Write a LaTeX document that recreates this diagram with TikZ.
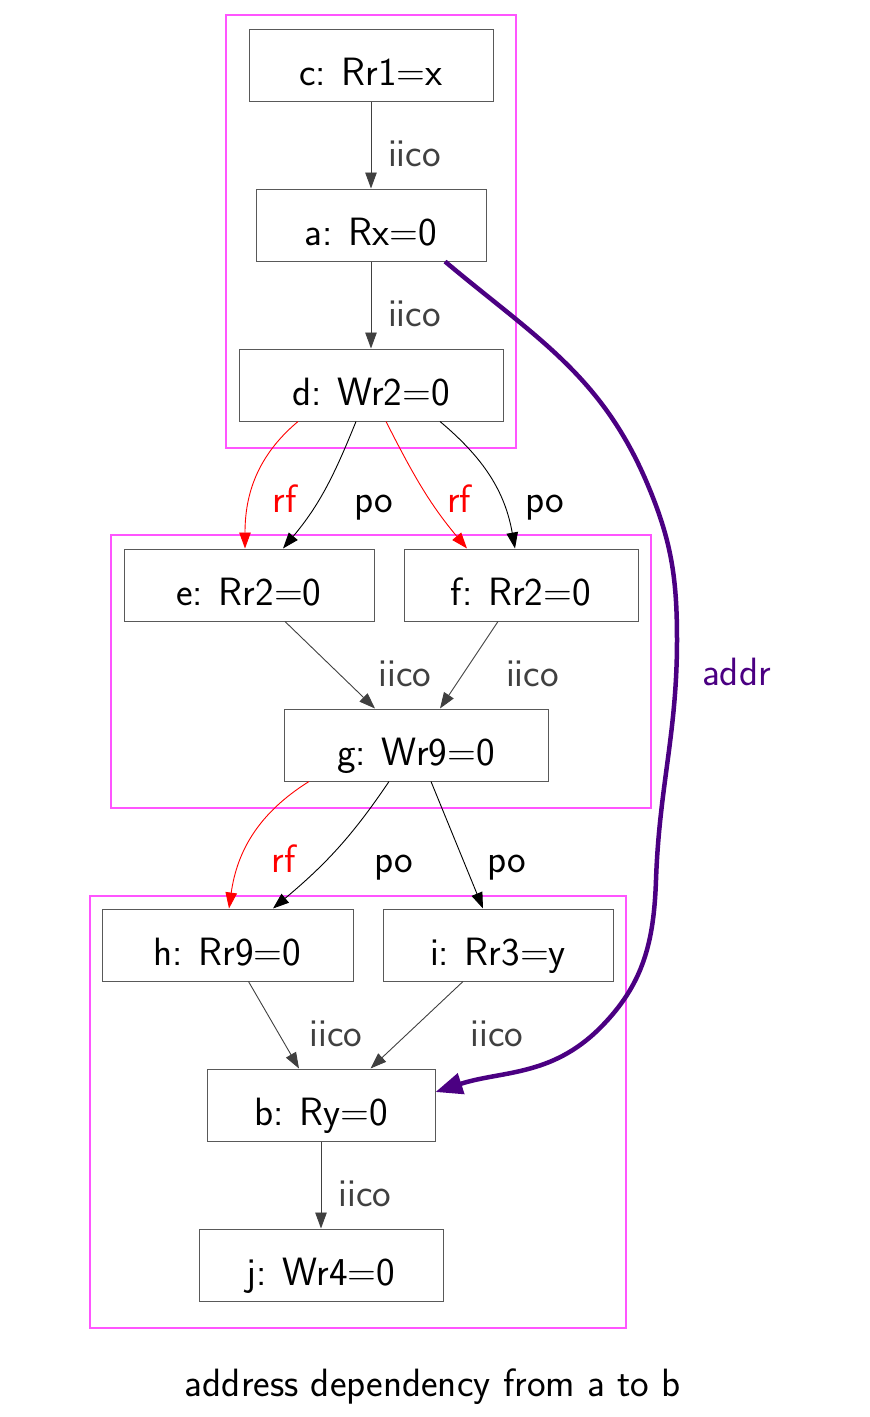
\documentclass[tikz,border=0pt]{standalone}
\usepackage{fontspec}
\usetikzlibrary{arrows.meta}
\definecolor{clustc}{RGB}{255,85,255}
\definecolor{indig}{RGB}{75,0,130}
\definecolor{iicoc}{RGB}{64,64,64}
\newcommand\evfont{\fontsize{39.5}{47}\selectfont\sffamily}
\newcommand\evt[2]{#1:\hspace{0.4em}#2}
\tikzset{
  ev/.style={draw=black!65, line width=1pt, minimum height=72pt, inner sep=0pt,
    text height=40pt, text depth=0pt, font=\evfont},
  lbl/.style={anchor=base, inner sep=0pt, font=\evfont},
  clust/.style={draw=clustc, line width=1.1pt},
  iicoedge/.style={draw=iicoc, line width=0.9pt, -{Triangle[length=16pt,width=11.5pt]}},
  poedge/.style={draw=black, line width=0.9pt, -{Triangle[length=16pt,width=11.5pt]}},
  rfedge/.style={draw=red, line width=0.9pt, -{Triangle[length=16pt,width=11.5pt]}},
  addredge/.style={draw=indig, line width=4.5pt, -{Triangle[length=27pt,width=21pt]}},
}
\begin{document}
\begin{tikzpicture}[x=1pt,y=-1pt]
\useasboundingbox (0,0) rectangle (870,1417);
% clusters
\draw[clust] (226,15) rectangle (516,448);
\draw[clust] (111,535) rectangle (651,808);
\draw[clust] (90,896) rectangle (626,1328);
% nodes
\node[ev, minimum width=244pt] (c) at (371,65.5) {\evt{c}{Rr1=x}};
\node[ev, minimum width=230pt] (a) at (371,225) {\evt{a}{Rx=0}};
\node[ev, minimum width=264pt] (d) at (371,385) {\evt{d}{Wr2=0}};
\node[ev, minimum width=250pt] (e) at (249,585) {\evt{e}{Rr2=0}};
\node[ev, minimum width=234pt] (f) at (521,585) {\evt{f}{Rr2=0}};
\node[ev, minimum width=264pt] (g) at (416,745) {\evt{g}{Wr9=0}};
\node[ev, minimum width=251pt] (h) at (227.5,945) {\evt{h}{Rr9=0}};
\node[ev, minimum width=230pt] (i) at (498,945) {\evt{i}{Rr3=y}};
\node[ev, minimum width=228pt] (b) at (321,1105) {\evt{b}{Ry=0}};
\node[ev, minimum width=244pt] (j) at (321,1265) {\evt{j}{Wr4=0}};
% iico edges
\draw[iicoedge] (c) -- (a);
\draw[iicoedge] (a) -- (d);
\draw[iicoedge] ([xshift=36pt]e.south) -- ([xshift=-41pt]g.north);
\draw[iicoedge] ([xshift=-23pt]f.south) -- ([xshift=24pt]g.north);
\draw[iicoedge] ([xshift=21pt]h.south) -- ([xshift=-22pt]b.north);
\draw[iicoedge] ([xshift=-35pt]i.south) -- ([xshift=49.5pt]b.north);
\draw[iicoedge] (b) -- (j);
% rf / po edges from d
\draw[rfedge] ([xshift=-73pt]d.south) to[out=-140,in=90] ([xshift=-4pt]e.north);
\draw[poedge] ([xshift=-15pt]d.south) to[out=-112,in=50] ([xshift=34pt]e.north);
\draw[rfedge] ([xshift=15pt]d.south) to[out=-63,in=130] ([xshift=-54pt]f.north);
\draw[poedge] ([xshift=69pt]d.south) to[out=-40,in=100] ([xshift=-6pt]f.north);
% rf / po edges from g
\draw[rfedge] ([xshift=-107pt]g.south) to[out=-148,in=82] ([xshift=1.5pt]h.north);
\draw[poedge] ([xshift=-27pt]g.south) to[out=-124,in=40] ([xshift=45.5pt]h.north);
\draw[poedge] ([xshift=15pt]g.south) -- ([xshift=-15pt]i.north);
% addr edge
\draw[addredge] ([xshift=74pt]a.south) to[out=-40,in=113] (647,483)
  to[out=-67,in=90] (677,640) to[out=-90,in=88] (656,880)
  to[out=-92,in=45] (600,1028) to[out=-135,in=18] ([yshift=13pt]b.east);
% labels
\node[lbl, text=iicoc] (l1) at (414.5,166) {iico};
\node[lbl, text=iicoc] (l2) at (414.5,326) {iico};
\node[lbl, text=red] (l3) at (284.5,512) {rf};
\node[lbl] (l4) at (373.5,512) {po};
\node[lbl, text=red] (l5) at (459,512) {rf};
\node[lbl] (l6) at (545,512) {po};
\node[lbl, text=iicoc] (l7) at (405,686) {iico};
\node[lbl, text=iicoc] (l8) at (532.5,686) {iico};
\node[lbl, text=red] (l9) at (283.5,872) {rf};
\node[lbl] (l10) at (393.5,872) {po};
\node[lbl] (l11) at (506.5,872) {po};
\node[lbl, text=iicoc] (l12) at (336,1046) {iico};
\node[lbl, text=iicoc] (l13) at (497,1046) {iico};
\node[lbl, text=iicoc] (l14) at (365,1206) {iico};
\node[lbl, text=indig] (l15) at (736.5,685) {addr};
\node[lbl] (cap) at (433,1396) {address dependency from a to b};
\end{tikzpicture}
\end{document}
